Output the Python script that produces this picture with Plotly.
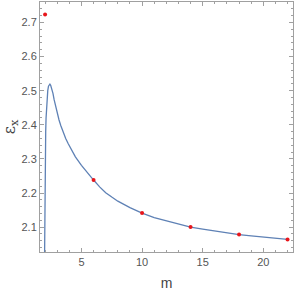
import plotly.graph_objects as go

# curve samples
curve_m = [1.96, 1.97, 1.98, 1.99, 2.00, 2.02, 2.05, 2.08, 2.12, 2.17, 2.22, 2.28, 2.34, 2.40, 2.46,
           2.55, 2.65, 2.75, 2.86, 3.0, 3.15, 3.3, 3.5, 3.7, 3.9, 4.2, 4.5, 5.0, 5.5, 6.0, 6.5, 7.0,
           7.5, 8.0, 9.0, 10, 11, 12, 13, 14, 15, 16, 17, 18, 19, 20, 21, 22]
curve_e = [2.027, 2.10, 2.17, 2.23, 2.28, 2.33, 2.38, 2.42, 2.455, 2.482, 2.50, 2.513, 2.519, 2.519, 2.516,
           2.507, 2.492, 2.473, 2.454, 2.433, 2.414, 2.397, 2.377, 2.360, 2.345, 2.324, 2.306, 2.281, 2.258, 2.238, 2.218, 2.201,
           2.188, 2.176, 2.157, 2.141, 2.128, 2.118, 2.108, 2.100, 2.094, 2.088, 2.083, 2.078, 2.074, 2.070, 2.067, 2.064]

# discrete points
pts_m = [2, 6, 10, 14, 18, 22]
pts_e = [2.723, 2.238, 2.141, 2.100, 2.078, 2.064]

fig = go.Figure()
fig.add_trace(go.Scatter(x=curve_m, y=curve_e, mode="lines", line=dict(color="#5E81B5", width=1.3),
                         showlegend=False, hoverinfo="skip"))
fig.add_trace(go.Scatter(x=pts_m, y=pts_e, mode="markers", marker=dict(color="#E8161B", size=4),
                         showlegend=False, cliponaxis=False))

axis_common = dict(showgrid=False, zeroline=False, showline=True, linecolor="#a0a0a0", linewidth=1,
                   mirror="ticks", ticks="inside", tickcolor="#a0a0a0", ticklen=4, tickwidth=1,
                   tickfont=dict(family="Liberation Sans, Arial, sans-serif", size=11, color="#555555"))

fig.update_xaxes(range=[1.58, 22.45], tickvals=[5, 10, 15, 20],
                 minor=dict(dtick=1, tick0=0, ticks="inside", ticklen=2, tickcolor="#a0a0a0"),
                 title=dict(text="m", font=dict(family="Liberation Sans, Arial, sans-serif", size=14, color="#444444"), standoff=12),
                 **axis_common)
fig.update_yaxes(range=[2.027, 2.76], tickvals=[2.1, 2.2, 2.3, 2.4, 2.5, 2.6, 2.7], tickformat=".1f",
                 minor=dict(dtick=0.02, tick0=2.0, ticks="inside", ticklen=2, tickcolor="#a0a0a0"),
                 title=dict(text="ε<sub>x</sub>", font=dict(family="DejaVu Serif, serif", size=16, color="#444444"), standoff=6),
                 **axis_common)

fig.update_layout(width=295, height=291, margin=dict(l=40, r=2, t=1, b=37),
                  plot_bgcolor="white", paper_bgcolor="white")

fig.write_html("out.html", config={"displayModeBar": False},
               post_script="document.body.style.margin='0';document.body.style.overflow='hidden';")
